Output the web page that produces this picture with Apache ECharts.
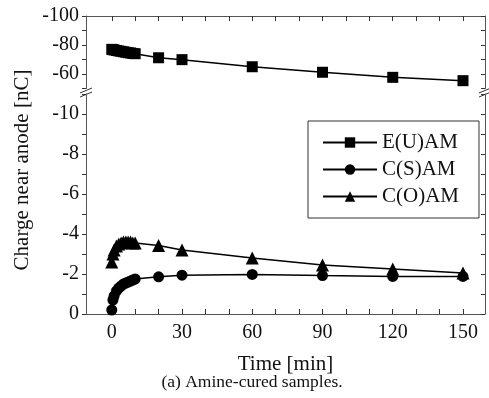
<!DOCTYPE html>
<html>
<head>
<meta charset="utf-8">
<script src="https://cdn.jsdelivr.net/npm/echarts@6/dist/echarts.min.js"></script>
<style>
  html, body { margin: 0; padding: 0; background: #fff; }
  #main { width: 489px; height: 398px; }
</style>
</head>
<body>
<div id="main"></div>
<script>
// time [min] shared by all samples
const times = [0, 0.5, 1, 2, 3, 4, 5, 6, 7, 8, 9, 10, 20, 30, 60, 90, 120, 150]
// charge near anode [nC]
const euam = [-77, -76.8, -76.6, -76.2, -75.9, -75.6, -75.3, -75.0, -74.7, -74.5, -74.2, -74.0, -71.2, -69.9, -65.0, -61.2, -57.7, -55.4]
const csam = [-0.2, -0.7, -0.9, -1.15, -1.3, -1.4, -1.5, -1.55, -1.6, -1.65, -1.7, -1.75, -1.86, -1.94, -1.98, -1.92, -1.88, -1.88]
const coam = [-2.6, -3.0, -3.2, -3.4, -3.5, -3.55, -3.6, -3.6, -3.6, -3.6, -3.55, -3.55, -3.42, -3.2, -2.8, -2.45, -2.25, -2.05]

const xLabels = [0, 30, 60, 90, 120, 150]
const xTicks = [0, 10, 20, 30, 40, 50, 60, 70, 80, 90, 100, 110, 120, 130, 140, 150]
const topLabels = [-100, -80, -60]
const topTicks = [-100, -90, -80, -70, -60, -50]
const bottomLabels = [-10, -8, -6, -4, -2, 0]
const bottomTicks = [-11, -10, -9, -8, -7, -6, -5, -4, -3, -2, -1, 0]

const serif = 'Liberation Serif'
const ink = '#111'

const pairs = (ys) => times.map((t, i) => [t, ys[i]])

const chart = echarts.init(document.getElementById('main'))

const xBase = {
  type: 'value',
  min: -11,
  max: 159.4,
  splitLine: { show: false },
  axisLine: { show: true, onZero: false, lineStyle: { color: '#555', width: 1 } },
  axisTick: { show: true, inside: true, length: 5, customValues: xTicks, lineStyle: { color: '#333' } },
}

const yLeft = (min, max, labels, ticks) => ({
  type: 'value',
  min: min,
  max: max,
  inverse: true,
  splitLine: { show: false },
  axisLine: { show: true, onZero: false, lineStyle: { color: '#555', width: 1 } },
  axisTick: { show: true, inside: false, length: 4, customValues: ticks, lineStyle: { color: '#333' } },
  axisLabel: { customValues: labels, margin: 7, color: ink, fontFamily: serif, fontSize: 20 }
})

const yRight = (min, max, ticks) => ({
  type: 'value',
  min: min,
  max: max,
  inverse: true,
  position: 'right',
  splitLine: { show: false },
  axisLine: { show: true, onZero: false, lineStyle: { color: '#555', width: 1 } },
  axisTick: { show: true, inside: true, length: 4, customValues: ticks, lineStyle: { color: '#333' } },
  axisLabel: { show: false }
})

const lineSeries = (name, data, symbol, size, xi, yi) => ({
  name: name,
  type: 'line',
  xAxisIndex: xi,
  yAxisIndex: yi,
  data: pairs(data),
  symbol: symbol,
  symbolSize: size,
  showAllSymbol: true,
  animation: false,
  itemStyle: { color: '#000' },
  lineStyle: { color: '#000', width: 1.5 }
})

// break marks on the y axes
const breakMark = (x) => [
  { type: 'line', shape: { x1: x - 6, y1: 93, x2: x + 6, y2: 88 }, style: { stroke: '#333', lineWidth: 1 } },
  { type: 'line', shape: { x1: x - 6, y1: 97, x2: x + 6, y2: 92 }, style: { stroke: '#333', lineWidth: 1 } }
]

chart.setOption({
  animation: false,
  grid: [
    { left: 86, right: 4, top: 16, height: 72.5 },
    { left: 86, right: 4, top: 94, height: 220 }
  ],
  xAxis: [
    Object.assign({}, xBase, { gridIndex: 0, position: 'top', axisLabel: { show: false } }),
    Object.assign({}, xBase, {
      gridIndex: 1,
      position: 'bottom',
      name: 'Time [min]',
      nameLocation: 'middle',
      nameGap: 40,
      nameTextStyle: { color: ink, fontFamily: serif, fontSize: 21 },
      axisLabel: { customValues: xLabels, margin: 9, color: ink, fontFamily: serif, fontSize: 20 }
    })
  ],
  yAxis: [
    Object.assign(yLeft(-100, -50, topLabels, topTicks), { gridIndex: 0 }),
    Object.assign(yRight(-100, -50, topTicks), { gridIndex: 0 }),
    Object.assign(yLeft(-11, 0, bottomLabels, bottomTicks), { gridIndex: 1 }),
    Object.assign(yRight(-11, 0, bottomTicks), { gridIndex: 1 })
  ],
  legend: {
    orient: 'vertical',
    left: 308,
    top: 121,
    padding: [11, 20, 11, 14],
    itemWidth: 54,
    itemHeight: 13,
    itemGap: 6,
    borderColor: '#333',
    borderWidth: 1,
    textStyle: { color: ink, fontFamily: serif, fontSize: 21 },
    data: ['E(U)AM', 'C(S)AM', 'C(O)AM']
  },
  graphic: [
    ...breakMark(86),
    ...breakMark(485),
    {
      type: 'text', x: 22, y: 170, rotation: Math.PI / 2,
      style: { text: 'Charge near anode [nC]', fill: ink, fontFamily: serif, fontSize: 21, align: 'center', verticalAlign: 'middle' }
    },
    {
      type: 'text', x: 252, y: 382,
      style: { text: '(a) Amine-cured samples.', fill: ink, fontFamily: serif, fontSize: 17.5, align: 'center', verticalAlign: 'middle' }
    }
  ],
  series: [
    lineSeries('E(U)AM', euam, 'rect', 11, 0, 0),
    lineSeries('C(S)AM', csam, 'circle', 11, 1, 2),
    lineSeries('C(O)AM', coam, 'triangle', 13, 1, 2)
  ]
})
</script>
</body>
</html>
